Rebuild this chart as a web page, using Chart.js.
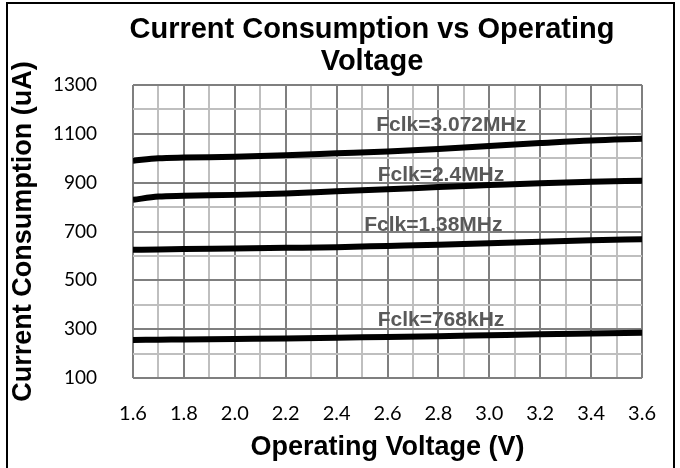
<!DOCTYPE html>
<html>
<head>
<meta charset="utf-8">
<script src="https://cdn.jsdelivr.net/npm/chart.js@4"></script>
<style>
  html, body { margin: 0; padding: 0; background: #fff; }
  #wrap { width: 680px; height: 468px; position: relative; }
</style>
</head>
<body>
<div id="wrap"><canvas id="chart" width="680" height="468"></canvas></div>
<script>
// voltage points (V)
const voltages = [1.6, 1.7, 1.8, 2.0, 2.2, 2.4, 2.6, 2.8, 3.0, 3.2, 3.4, 3.6];

// current consumption (uA) per clock
const fclk3072 = [990, 1000, 1003, 1006, 1012, 1020, 1028, 1038, 1050, 1062, 1073, 1080];
const fclk2400 = [830, 843, 846, 850, 856, 865, 873, 882, 890, 898, 904, 908];
const fclk1380 = [625, 626, 628, 630, 633, 636, 641, 646, 652, 658, 664, 668];
const fclk768 = [256, 257, 258, 260, 262, 265, 268, 271, 275, 279, 282, 285];

const seriesNames = ['Fclk=3.072MHz', 'Fclk=2.4MHz', 'Fclk=1.38MHz', 'Fclk=768kHz'];
// where the text labels sit, in data units
const labelX = [2.85, 2.81, 2.78, 2.81];
const labelY = [1136, 931, 727, 338];

const yTicksLabeled = [100, 300, 500, 700, 900, 1100, 1300];
const titleLines = ['Current Consumption vs Operating', 'Voltage'];

const toPoints = arr => arr.map((v, i) => ({ x: voltages[i], y: v }));

const BOLD = '"Liberation Sans", Arial, sans-serif';

// chart title, drawn a bit right of the canvas centre like the original
const chartTitle = {
  id: 'chartTitle',
  afterDraw(chart) {
    const ctx = chart.ctx;
    ctx.save();
    ctx.font = 'bold 29px ' + BOLD;
    ctx.fillStyle = '#000';
    ctx.textAlign = 'center';
    ctx.textBaseline = 'middle';
    titleLines.forEach((t, i) => ctx.fillText(t, 372, 30 + i * 32));
    ctx.restore();
  }
};

const seriesLabels = {
  id: 'seriesLabels',
  afterDatasetsDraw(chart) {
    const { ctx, scales: { x, y } } = chart;
    ctx.save();
    ctx.font = 'bold 21px ' + BOLD;
    ctx.fillStyle = '#595959';
    ctx.textAlign = 'center';
    ctx.textBaseline = 'middle';
    seriesNames.forEach((name, i) => {
      ctx.fillText(name, x.getPixelForValue(labelX[i]), y.getPixelForValue(labelY[i]));
    });
    ctx.restore();
  }
};

const frame = {
  id: 'frame',
  afterDraw(chart) {
    const ctx = chart.ctx;
    ctx.save();
    ctx.strokeStyle = '#000';
    ctx.lineWidth = 2;
    ctx.strokeRect(7, 3, 667, 480);
    ctx.restore();
  }
};

const lineStyle = {
  borderColor: '#000',
  borderWidth: 6,
  pointRadius: 0,
  fill: false,
  tension: 0.3,
  cubicInterpolationMode: 'monotone'
};

new Chart(document.getElementById('chart'), {
  type: 'line',
  data: {
    datasets: [
      { label: seriesNames[0], data: toPoints(fclk3072), ...lineStyle },
      { label: seriesNames[1], data: toPoints(fclk2400), ...lineStyle },
      { label: seriesNames[2], data: toPoints(fclk1380), ...lineStyle },
      { label: seriesNames[3], data: toPoints(fclk768), ...lineStyle }
    ]
  },
  options: {
    responsive: false,
    animation: false,
    layout: { padding: { left: 7, right: 37, top: 85, bottom: 0 } },
    plugins: {
      legend: { display: false },
      tooltip: { enabled: false },
      title: { display: false }
    },
    scales: {
      x: {
        type: 'linear',
        min: 1.6,
        max: 3.6,
        afterFit: s => { s.height = 90; },
        ticks: {
          stepSize: 0.1,
          autoSkip: false,
          maxRotation: 0,
          color: '#000',
          padding: 24,
          font: { family: 'Lato, "Open Sans", sans-serif', size: 20 },
          callback: v => Math.round(v * 10) % 2 === 0 ? v.toFixed(1) : ''
        },
        grid: {
          color: ctx => Math.round(ctx.tick.value * 10) % 2 === 0 ? '#7f7f7f' : '#bfbfbf',
          lineWidth: 2,
          drawTicks: false
        },
        border: { display: false },
        title: {
          display: true,
          text: 'Operating Voltage (V)',
          color: '#000',
          font: { family: BOLD, size: 27, weight: 'bold' },
          padding: { top: 0, bottom: 4 }
        }
      },
      y: {
        min: 100,
        max: 1300,
        afterFit: s => { s.width = 126; },
        ticks: {
          stepSize: 100,
          autoSkip: false,
          color: '#000',
          padding: 36,
          font: { family: 'Lato, "Open Sans", sans-serif', size: 19 },
          callback: v => yTicksLabeled.includes(v) ? String(v) : ''
        },
        grid: {
          color: ctx => yTicksLabeled.includes(ctx.tick.value) ? '#7f7f7f' : '#bfbfbf',
          lineWidth: 2,
          drawTicks: false
        },
        border: { display: false },
        title: {
          display: true,
          text: 'Current Consumption (uA)',
          color: '#000',
          font: { family: BOLD, size: 27, weight: 'bold' },
          padding: { top: 0, bottom: 0 }
        }
      }
    }
  },
  plugins: [seriesLabels, chartTitle, frame]
});
</script>
</body>
</html>
